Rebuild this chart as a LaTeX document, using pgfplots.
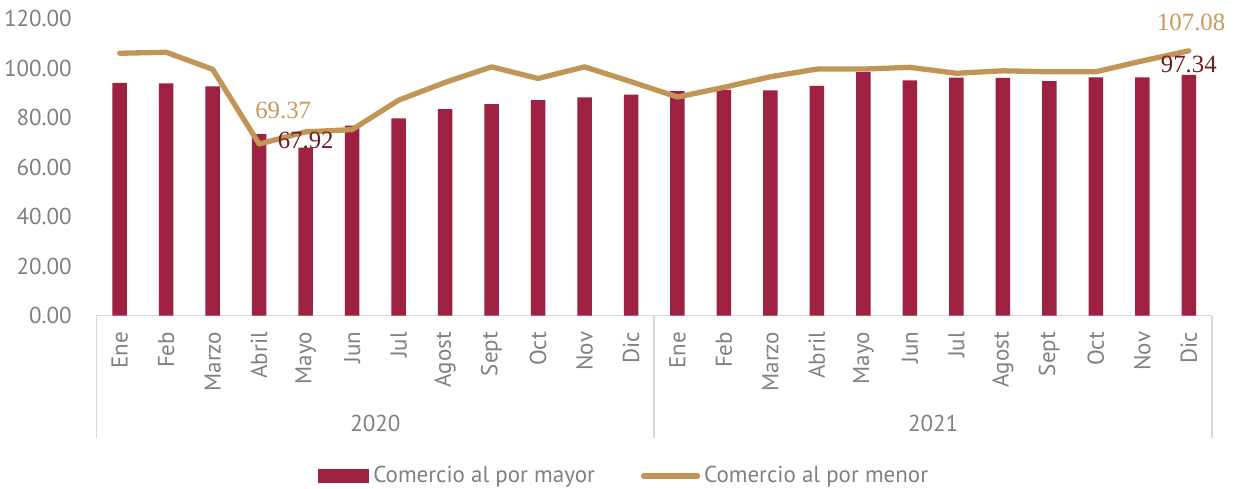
\documentclass[border=0pt]{standalone}
\usepackage{fontspec}
\setmainfont{PT Sans}
\newfontfamily\lblfont{Liberation Serif}
\usepackage{pgfplots}
\usepackage{pgfplotstable}
\pgfplotsset{compat=1.18}
\definecolor{barred}{HTML}{9F2142}
\definecolor{gold}{HTML}{C09555}
\definecolor{txtgray}{RGB}{128,128,128}
\definecolor{axgray}{RGB}{217,217,217}
\definecolor{darklbl}{HTML}{6E1C24}
\definecolor{goldlbl}{HTML}{C49A5C}

\pgfplotstableread{
x mayor menor
0 94.1 106.1
1 93.9 106.5
2 92.7 99.6
3 73.4 69.37
4 67.92 74.3
5 76.8 75.2
6 79.8 87.1
7 83.5 94.3
8 85.5 100.6
9 87.1 95.9
10 88.3 100.6
11 89.4 94.6
12 90.8 88.4
13 91.3 92.3
14 91.1 96.6
15 92.9 99.7
16 98.5 99.7
17 95.1 100.4
18 96.2 98.0
19 96.1 99.0
20 94.8 98.6
21 96.3 98.6
22 96.3 103.0
23 97.34 107.08
}\datatable

\begin{document}
\begin{tikzpicture}
\begin{axis}[
  at={(0,0)}, anchor=south west,
  scale only axis, width=557.75pt, height=148.3pt,
  xmin=-0.5, xmax=23.5, ymin=0, ymax=120,
  clip=false,
  axis x line*=bottom, axis y line*=left,
  x axis line style={draw=axgray, line width=0.8pt},
  y axis line style={draw=none},
  xtick={0,...,23},
  xticklabels={Ene,Feb,Marzo,Abril,Mayo,Jun,Jul,Agost,Sept,Oct,Nov,Dic,Ene,Feb,Marzo,Abril,Mayo,Jun,Jul,Agost,Sept,Oct,Nov,Dic},
  ytick={0,20,...,120},
  major tick length=0pt,
  /pgf/number format/assume math mode=true,
  yticklabel style={/pgf/number format/fixed, /pgf/number format/fixed zerofill, /pgf/number format/precision=2},
  tick label style={font=\fontsize{11.5}{13}\selectfont, text=txtgray, inner sep=0pt},
  yticklabel style={anchor=east, xshift=-12.25pt},
  xticklabel style={yshift=-8pt, rotate=90, anchor=east},
  legend style={draw=none, fill=none, at={(0.474,-0.541)}, anchor=center,
    legend columns=2, font=\fontsize{11.5}{13}\selectfont, text=txtgray,
    /tikz/every even column/.append style={column sep=21pt}},
  legend cell align=left,
]
\addplot[ybar, bar width=7.25pt, fill=barred, draw=none,
  legend image code/.code={\fill[barred] (0pt,-3.5pt) rectangle (25.5pt,3.5pt);}]
  table[x=x,y=mayor]{\datatable};
\addlegendentry{Comercio al por mayor}
\addplot[gold, line width=2.65pt, line cap=round, line join=round, mark=none,
  legend image code/.code={\draw[gold, line width=2.65pt, line cap=round] (0pt,0pt) -- (27pt,0pt);}]
  table[x=x,y=menor]{\datatable};
\addlegendentry{Comercio al por menor}

\draw[axgray, line width=0.8pt] (axis cs:-0.5,0) -- ++(0pt,-61.25pt);
\draw[axgray, line width=0.8pt] (axis cs:11.5,0) -- ++(0pt,-61.25pt);
\draw[axgray, line width=0.8pt] (axis cs:23.5,0) -- ++(0pt,-61.25pt);
\node[font=\fontsize{11.5}{13}\selectfont, text=txtgray] at (axis cs:5.5,0) [yshift=-53.75pt] {2020};
\node[font=\fontsize{11.5}{13}\selectfont, text=txtgray] at (axis cs:17.5,0) [yshift=-53.75pt] {2021};

\node[font=\lblfont\fontsize{12.4}{14}\selectfont, text=goldlbl] at (axis cs:3,69.37) [xshift=12pt, yshift=17pt] {69.37};
\node[font=\lblfont\fontsize{12.4}{14}\selectfont, text=darklbl] at (axis cs:4,67.92) [yshift=3.8pt] {67.92};
\node[font=\lblfont\fontsize{12.4}{14}\selectfont, text=goldlbl] at (axis cs:23,107.08) [xshift=1.2pt, yshift=14.4pt] {107.08};
\node[font=\lblfont\fontsize{12.4}{14}\selectfont, text=darklbl] at (axis cs:23,97.34) [yshift=5.3pt] {97.34};
\end{axis}
\pgfresetboundingbox
\path[use as bounding box] (-48.25pt,-86.25pt) rectangle (570.75pt,157.75pt);
\end{tikzpicture}
\end{document}
